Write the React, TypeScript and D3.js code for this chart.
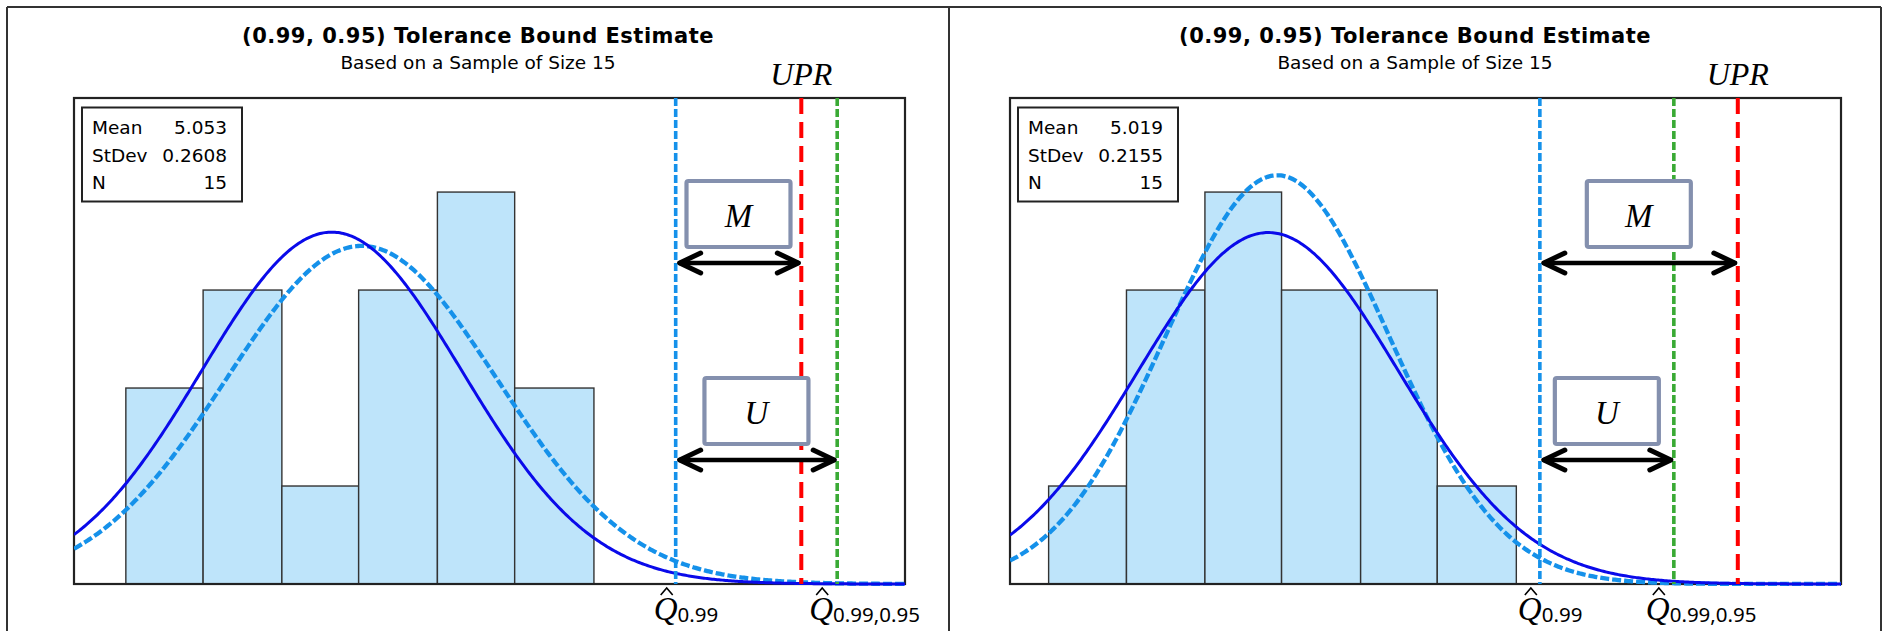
import { useEffect, useRef } from "react"
import * as d3 from "d3"

const WIDTH = 1885
const HEIGHT = 631

const title = "(0.99, 0.95) Tolerance Bound Estimate"
const subtitle = "Based on a Sample of Size 15"
const legendLabels = ["Mean", "StDev", "N"]

// left sample
const leftBinEdges = [4.64, 4.795, 4.953, 5.107, 5.265, 5.42, 5.579]
const leftCounts = [2, 3, 1, 3, 4, 2]
const leftStats = { mean: 5.053, stdev: 0.2608, n: 15 }
const leftTrue = { mean: 5.113, stdev: 0.2714 }
const leftDomain = [4.536, 6.203]
const leftMarks = { q99: 5.743, upr: 5.995, q9995: 6.067 }

// right sample
const rightBinEdges = [4.655, 4.784, 4.914, 5.041, 5.172, 5.299, 5.43]
const rightCounts = [1, 3, 4, 3, 3, 1]
const rightStats = { mean: 5.019, stdev: 0.2155, n: 15 }
const rightTrue = { mean: 5.034, stdev: 0.1853 }
const rightDomain = [4.591, 5.968]
const rightMarks = { q99: 5.469, upr: 5.797, q9995: 5.691 }

const countDomain = [0, 4.96]

const panels = [
  { id: "a", x0: 7, x1: 949, plotLeft: 74, edges: leftBinEdges, counts: leftCounts, stats: leftStats, truth: leftTrue, domain: leftDomain, marks: leftMarks },
  { id: "b", x0: 949, x1: 1881, plotLeft: 1010, edges: rightBinEdges, counts: rightCounts, stats: rightStats, truth: rightTrue, domain: rightDomain, marks: rightMarks },
]

const PLOT_W = 831
const PLOT_TOP = 98
const PLOT_BOTTOM = 584

const BLUE_LINE = "#1591ea"
const RED_LINE = "#ff0000"
const GREEN_LINE = "#3aaa35"
const FIT_BLUE = "#0a0aea"
const BOX_STROKE = "#8490ae"
const MATH_FONT = "'Liberation Serif', 'DejaVu Serif', serif"
const SANS = "'DejaVu Sans', sans-serif"

export default function App() {
  const svgRef = useRef<SVGSVGElement>(null)

  useEffect(() => {
    if (!svgRef.current) return
    const svg = d3.select(svgRef.current)
    svg.selectAll("*").remove()

    svg.append("rect").attr("width", WIDTH).attr("height", HEIGHT).attr("fill", "white")

    // outer frame
    const frame = svg.append("g").attr("stroke", "#333").attr("stroke-width", 2)
    frame.append("line").attr("x1", 7).attr("x2", 1881).attr("y1", 7).attr("y2", 7)
    ;[7, 949, 1881].forEach((fx) => {
      frame.append("line").attr("x1", fx).attr("x2", fx).attr("y1", 7).attr("y2", HEIGHT + 5)
    })

    panels.forEach((p) => {
      const g = svg.append("g")
      const cx = (p.x0 + p.x1) / 2

      const x = d3.scaleLinear().domain(p.domain).range([p.plotLeft, p.plotLeft + PLOT_W])
      const y = d3.scaleLinear().domain(countDomain).range([PLOT_BOTTOM, PLOT_TOP])

      // titles
      g.append("text")
        .attr("x", cx)
        .attr("y", 43)
        .attr("text-anchor", "middle")
        .style("font-family", SANS)
        .style("font-weight", "bold")
        .style("font-size", "21px")
        .style("letter-spacing", "0.5px")
        .text(title)

      g.append("text")
        .attr("x", cx)
        .attr("y", 69)
        .attr("text-anchor", "middle")
        .style("font-family", SANS)
        .style("font-size", "18.5px")
        .text(subtitle)

      // clip for curves
      const clipId = `clip-${p.id}`
      svg
        .append("clipPath")
        .attr("id", clipId)
        .append("rect")
        .attr("x", p.plotLeft)
        .attr("y", PLOT_TOP)
        .attr("width", PLOT_W)
        .attr("height", PLOT_BOTTOM - PLOT_TOP + 2)

      // histogram bars
      g.append("g")
        .selectAll("rect")
        .data(p.counts)
        .enter()
        .append("rect")
        .attr("x", (_d, i) => x(p.edges[i]))
        .attr("width", (_d, i) => x(p.edges[i + 1]) - x(p.edges[i]))
        .attr("y", (d) => y(d))
        .attr("height", (d) => y(0) - y(d))
        .attr("fill", "#bee4fa")
        .attr("stroke", "#333")
        .attr("stroke-width", 1.4)

      // plot frame
      g.append("rect")
        .attr("x", p.plotLeft)
        .attr("y", PLOT_TOP)
        .attr("width", PLOT_W)
        .attr("height", PLOT_BOTTOM - PLOT_TOP)
        .attr("fill", "none")
        .attr("stroke", "#222")
        .attr("stroke-width", 2.2)

      // normal curves scaled to counts
      const binWidth = (p.edges[p.edges.length - 1] - p.edges[0]) / p.counts.length
      const xs = d3.range(0, 501).map((i) => p.domain[0] + (i * (p.domain[1] - p.domain[0])) / 500)
      const density = (v: number, mu: number, sd: number) =>
        (p.stats.n * binWidth * Math.exp(-0.5 * ((v - mu) / sd) ** 2)) / (sd * Math.sqrt(2 * Math.PI))

      const line = d3
        .line<[number, number]>()
        .x((d) => x(d[0]))
        .y((d) => y(d[1]))

      const curves = g.append("g").attr("clip-path", `url(#${clipId})`)

      curves
        .append("path")
        .datum(xs.map((v) => [v, density(v, p.truth.mean, p.truth.stdev)] as [number, number]))
        .attr("fill", "none")
        .attr("stroke", BLUE_LINE)
        .attr("stroke-width", 4.3)
        .attr("stroke-dasharray", "9,3")
        .attr("d", line)

      curves
        .append("path")
        .datum(xs.map((v) => [v, density(v, p.stats.mean, p.stats.stdev)] as [number, number]))
        .attr("fill", "none")
        .attr("stroke", FIT_BLUE)
        .attr("stroke-width", 3)
        .attr("d", line)

      // vertical reference lines
      const vlines = [
        { v: p.marks.q99, color: BLUE_LINE, dash: "8,3", w: 3.6 },
        { v: p.marks.q9995, color: GREEN_LINE, dash: "8,3", w: 3.6 },
        { v: p.marks.upr, color: RED_LINE, dash: "16,8", w: 4 },
      ]
      vlines.forEach((l) => {
        g.append("line")
          .attr("x1", x(l.v))
          .attr("x2", x(l.v))
          .attr("y1", PLOT_TOP)
          .attr("y2", PLOT_BOTTOM)
          .attr("stroke", l.color)
          .attr("stroke-width", l.w)
          .attr("stroke-dasharray", l.dash)
      })

      // UPR label
      g.append("text")
        .attr("x", x(p.marks.upr))
        .attr("y", 85)
        .attr("text-anchor", "middle")
        .style("font-family", MATH_FONT)
        .style("font-style", "italic")
        .style("font-size", "32px")
        .text("UPR")

      // legend box
      const leg = g.append("g")
      leg.append("rect")
        .attr("x", p.plotLeft + 8)
        .attr("y", 107.5)
        .attr("width", 160)
        .attr("height", 94)
        .attr("fill", "white")
        .attr("stroke", "#222")
        .attr("stroke-width", 2)
      const legendValues = [p.stats.mean.toFixed(3), p.stats.stdev.toFixed(4), String(p.stats.n)]
      legendLabels.forEach((lab, i) => {
        leg.append("text")
          .attr("x", p.plotLeft + 18)
          .attr("y", 134 + i * 27.5)
          .style("font-family", SANS)
          .style("font-size", "18.5px")
          .text(lab)
        leg.append("text")
          .attr("x", p.plotLeft + 153)
          .attr("y", 134 + i * 27.5)
          .attr("text-anchor", "end")
          .style("font-family", SANS)
          .style("font-size", "18.5px")
          .text(legendValues[i])
      })

      // boxed symbols with double arrows
      const xq = x(p.marks.q99)
      const annotations = [
        { sym: "M", to: x(p.marks.upr), boxY: 181, arrowY: 263 },
        { sym: "U", to: x(p.marks.q9995), boxY: 378, arrowY: 460 },
      ]
      annotations.forEach((a) => {
        const mid = (xq + a.to) / 2
        g.append("rect")
          .attr("x", mid - 52)
          .attr("y", a.boxY)
          .attr("width", 104)
          .attr("height", 66)
          .attr("rx", 2)
          .attr("fill", "white")
          .attr("stroke", BOX_STROKE)
          .attr("stroke-width", 4.2)
        g.append("text")
          .attr("x", mid)
          .attr("y", a.boxY + 46)
          .attr("text-anchor", "middle")
          .style("font-family", MATH_FONT)
          .style("font-style", "italic")
          .style("font-size", "33px")
          .text(a.sym)

        const x1 = xq + 4
        const x2 = a.to - 3
        const ay = a.arrowY
        const arrow = g
          .append("g")
          .attr("stroke", "black")
          .attr("fill", "none")
          .attr("stroke-width", 5)
          .attr("stroke-linecap", "round")
          .attr("stroke-linejoin", "round")
        arrow.append("line").attr("x1", x1).attr("x2", x2).attr("y1", ay).attr("y2", ay).attr("stroke-width", 4.5)
        arrow.append("path").attr("d", `M${x1 + 21},${ay - 10}L${x1},${ay}L${x1 + 21},${ay + 10}`)
        arrow.append("path").attr("d", `M${x2 - 21},${ay - 10}L${x2},${ay}L${x2 - 21},${ay + 10}`)
      })

      // quantile labels under the axis
      const qLabels = [
        { v: p.marks.q99, sub: "0.99", dx: -22 },
        { v: p.marks.q9995, sub: "0.99,0.95", dx: -28 },
      ]
      qLabels.forEach((q) => {
        const lx = x(q.v) + q.dx
        const t = g.append("text").attr("x", lx).attr("y", 620)
        t.append("tspan")
          .style("font-family", MATH_FONT)
          .style("font-style", "italic")
          .style("font-size", "33px")
          .text("Q")
        t.append("tspan")
          .attr("dy", 2)
          .style("font-family", "'Noto Sans', sans-serif")
          .style("font-size", "20.5px")
          .text(q.sub)
        const hx = lx + 13
        g.append("path")
          .attr("d", `M${hx - 6},${595}L${hx},${588}L${hx + 6},${595}`)
          .attr("fill", "none")
          .attr("stroke", "black")
          .attr("stroke-width", 1.6)
      })
    })
  }, [])

  return (
    <svg
      ref={svgRef}
      width={WIDTH}
      height={HEIGHT}
      style={{ position: "absolute", left: 0, top: 0, display: "block" }}
    ></svg>
  )
}
